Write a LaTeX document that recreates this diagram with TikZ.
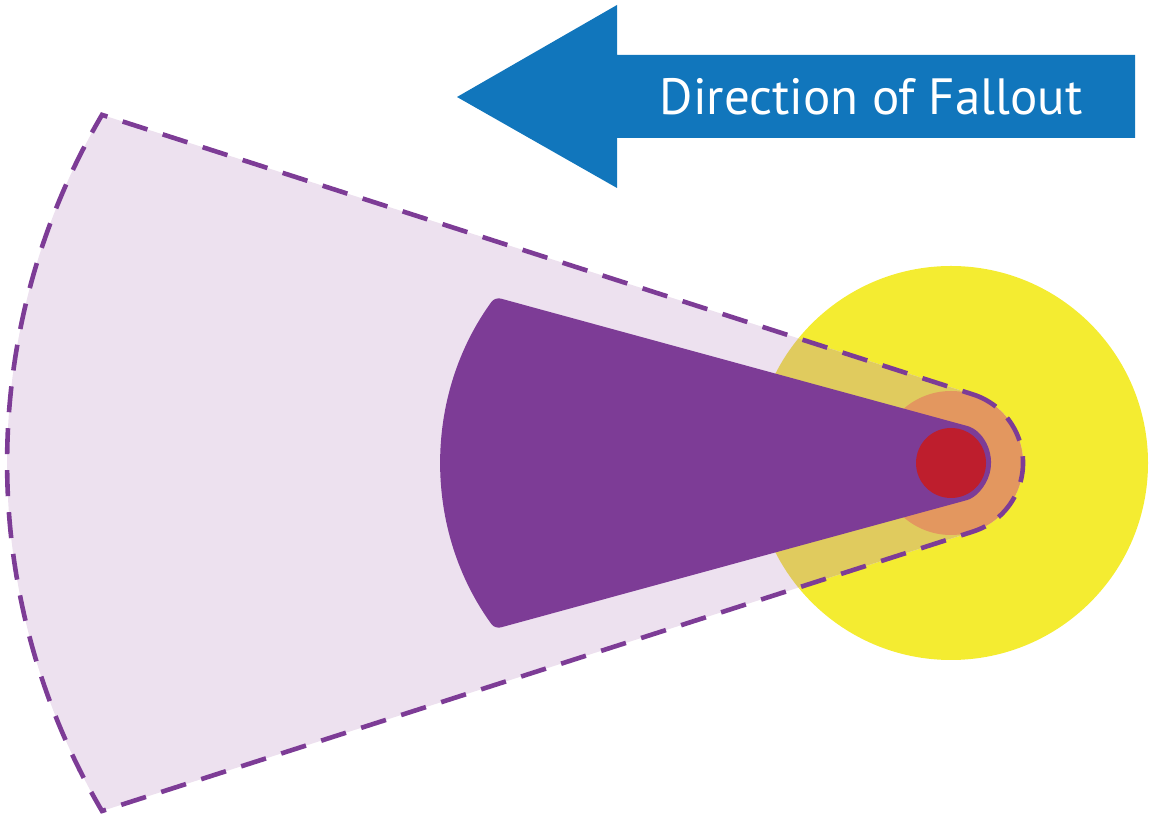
\documentclass[tikz,border=0pt]{standalone}
\usepackage{fontspec}
\setmainfont{PT Sans}
\usetikzlibrary{calc}
\definecolor{fallblue}{HTML}{1176BC}
\definecolor{plumedark}{HTML}{7D3C96}
\definecolor{plumelight}{HTML}{EDE1EF}
\definecolor{plumeover}{HTML}{E0CB5E}
\definecolor{zoneyellow}{HTML}{F4EC31}
\definecolor{zoneorange}{HTML}{E3975F}
\definecolor{zonered}{HTML}{BE1E2D}

\begin{document}
\begin{tikzpicture}[x=0.5pt,y=0.5pt,
      plumeedge/.style={draw=plumedark,line width=2.3pt,dash pattern=on 13pt off 8pt},
      arrowtext/.style={text=white,inner sep=0pt,anchor=base,font=\fontsize{25.5}{30}\selectfont}]
      \useasboundingbox (0,0) rectangle (1150,818);
      \coordinate (gz) at (951,355);
      \def\outerplume{($(gz)+(72.2:72)$) arc[start angle=72.2,end angle=-72.2,radius=72]
        -- (102,7) arc[start angle=210.5,end angle=149.5,radius=685.8] -- cycle}
      \def\innerplume{($(gz)+(74.7:40)$) arc[start angle=74.7,end angle=-74.7,radius=40]
        -- (495,189) arc[start angle=216.06,end angle=143.94,radius=282] -- cycle}
      \fill[zoneyellow] (gz) circle[radius=197];
      \fill[plumelight] \outerplume;
      \begin{scope}
        \clip \outerplume;
        \fill[plumeover] (gz) circle[radius=197];
      \end{scope}
      \fill[zoneorange] (gz) circle[radius=72];
      \fill[plumedark,rounded corners=3pt] \innerplume;
      \fill[zonered] (gz) circle[radius=35];
      \path[plumeedge] \outerplume;
      \fill[fallblue] (457,721) -- (617,813) -- (617,763) -- (1135,763)
        -- (1135,680) -- (617,680) -- (617,630) -- cycle;
      \node[arrowtext] (fallout) at (871,703) {Direction of Fallout};
    \end{tikzpicture}
\end{document}
